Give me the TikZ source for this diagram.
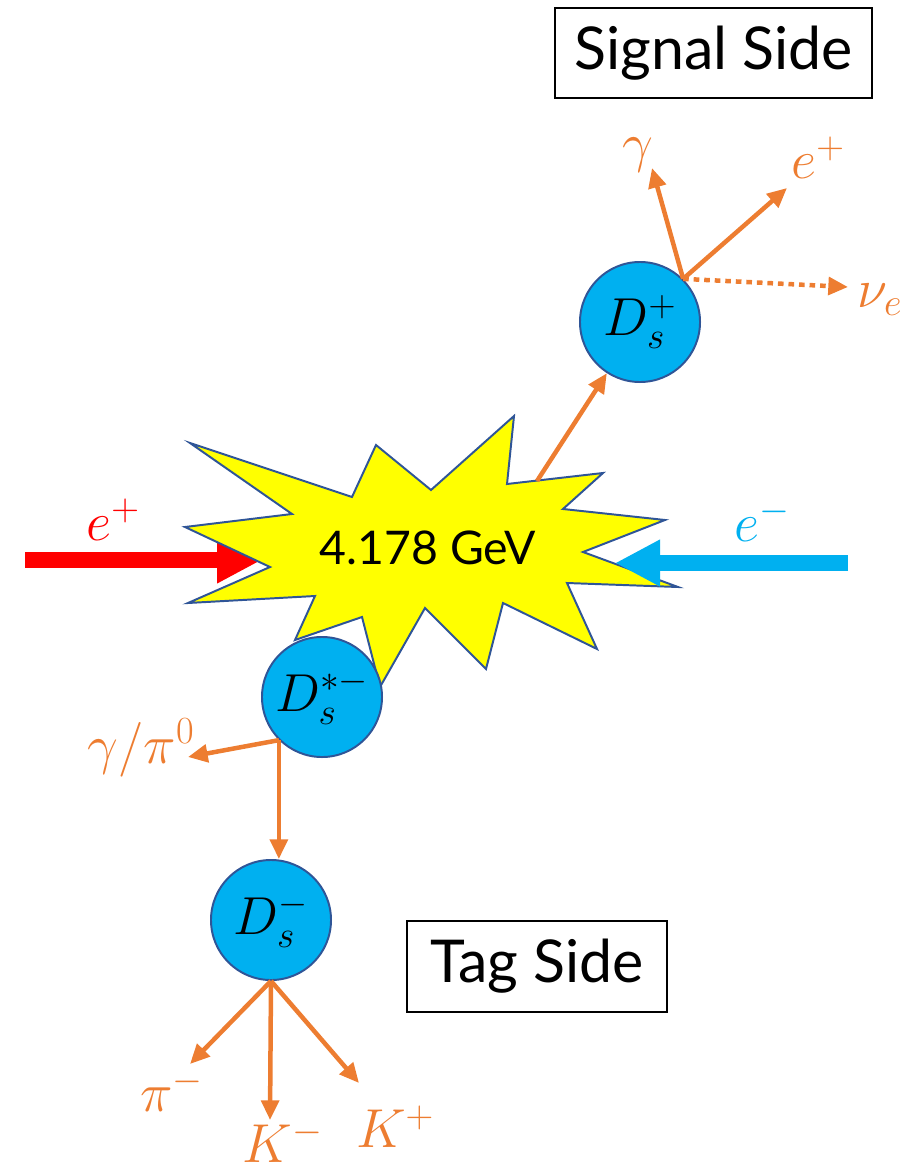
\RequirePackage{fix-cm}
\documentclass[tikz,border=0pt]{standalone}
\usepackage{fontspec}
\setsansfont{Lato}
\usetikzlibrary{arrows.meta}
\definecolor{decayorange}{HTML}{ED7D31}
\definecolor{mesonblue}{HTML}{00B0F0}
\definecolor{rimblue}{HTML}{2F5597}
\definecolor{burstyellow}{HTML}{FFFF00}
\tikzset{
  decay/.style={decayorange,line width=3.2pt,-{Triangle[length=14pt,width=12.5pt]}},
  nudecay/.style={decay,dash pattern=on 4pt off 3.5pt},
  beam/.style={line width=11.4pt,-{Triangle[length=32pt,width=31pt]}},
  burst/.style={fill=burstyellow,draw=rimblue,line width=1.4pt,line join=miter},
  meson/.style={circle,fill=mesonblue,draw=rimblue,line width=1.4pt,minimum size=3cm,inner sep=0pt,font=\fontsize{38}{40}\selectfont},
  lbl/.style={decayorange,inner sep=0pt,font=\fontsize{39}{41}\selectfont},
  sidebox/.style={draw=black,line width=2pt,inner sep=0pt,font=\sffamily\fontsize{42}{44}\selectfont},
  gev/.style={inner sep=0pt,font=\sffamily\fontsize{33}{36}\selectfont}
}
\begin{document}
\begin{tikzpicture}[x=0.025cm,y=-0.025cm]
  \useasboundingbox (0,0) rectangle (915,1169);
  % incoming positron beam
  \coordinate (ep start) at (25,560); \coordinate (ep tip) at (262,560);
  \draw[beam,red] (ep start) -- (ep tip);
  \node[lbl,red] (eplus lab) at (113,520) {$e^+$};
  % collision
  \draw[burst] (190,443) -- (292,514) -- (185,527) -- (270,567) -- (188,603) -- (315,596) -- (295,640) -- (362,617)
    -- (380,687) -- (425,608) -- (486,669) -- (503,603) -- (597,649) -- (567,583) -- (678,587) -- (583,552)
    -- (665,520) -- (563,509) -- (603,473) -- (507,484) -- (514,416) -- (431,490) -- (376,445) -- (352,497) -- cycle;
  \node[gev] (gev) at (428,548) {4.178 GeV};
  % incoming electron beam
  \coordinate (em start) at (848,563); \coordinate (em tip) at (615,563);
  \draw[beam,mesonblue] (em start) -- (em tip);
  \node[lbl,mesonblue] (eminus lab) at (762,520) {$e^-$};
  % mesons
  \node[meson] (dsp) at (640,322) {$D_s^+$};
  \node[meson] (dsstar) at (322,697) {$D_s^{*-}$};
  \node[meson] (dsm) at (271,920) {$D_s^-$};
  % signal side decay
  \coordinate (burst out) at (537,481); \draw[decay] (burst out) -- (dsp);
  \coordinate (gamma tip) at (652,168); \coordinate (positron tip) at (787,188); \coordinate (nu tip) at (848,287);
  \draw[decay] (dsp.45) -- (gamma tip); \draw[decay] (dsp.45) -- (positron tip); \draw[nudecay] (dsp.45) -- (nu tip);
  \node[lbl] (gamma lab) at (638,155) {$\gamma$}; \node[lbl] (positron lab) at (818,158) {$e^+$}; \node[lbl] (nu lab) at (880,300) {$\nu_e$};
  % tag side decay
  \coordinate (pizero tip) at (188,757); \draw[decay] (dsstar.225) -- (pizero tip);
  \draw[decay] (dsstar.225) -- (dsstar.225 |- dsm.north);
  \node[lbl] (pizero lab) at (141,748) {$\gamma/\pi^0$};
  \coordinate (piminus tip) at (190,1064); \coordinate (kminus tip) at (270,1120); \coordinate (kplus tip) at (359,1083);
  \draw[decay] (dsm.south) -- (piminus tip); \draw[decay] (dsm.south) -- (kminus tip); \draw[decay] (dsm.south) -- (kplus tip);
  \node[lbl] (piminus lab) at (172,1090) {$\pi^-$}; \node[lbl] (kminus lab) at (283,1141) {$K^-$}; \node[lbl] (kplus lab) at (395,1127) {$K^+$};
  % side labels
  \node[sidebox,minimum width=7.925cm,minimum height=2.25cm] (signal) at (713.5,53) {Signal Side};
  \node[sidebox,minimum width=6.5cm,minimum height=2.275cm] (tag) at (537,966.5) {Tag Side};
\end{tikzpicture}
\end{document}
